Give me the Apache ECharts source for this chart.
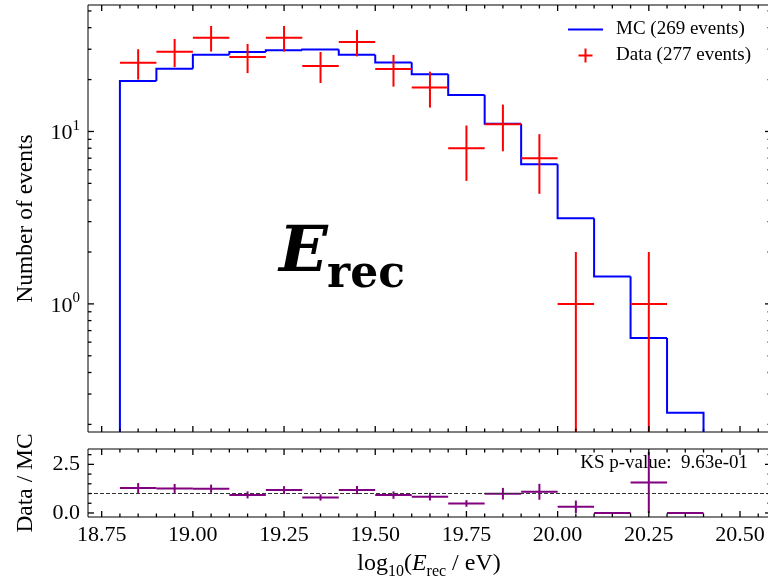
<!DOCTYPE html>
<html><head><meta charset="utf-8">
<script src="https://cdn.jsdelivr.net/npm/echarts@6/dist/echarts.min.js"></script>
<style>html,body{margin:0;padding:0;background:#fff}#c{width:768px;height:580px}</style>
</head><body><div id="c"></div>
<script>
// ---- data ----
const binEdges = [18.8, 18.9, 19.0, 19.1, 19.2, 19.3, 19.4, 19.5, 19.6, 19.7, 19.8, 19.9, 20.0, 20.1, 20.2, 20.3, 20.4];
const mcCounts = [19.6, 23.1, 27.9, 28.9, 29.6, 29.9, 27.9, 25.1, 21.5, 16.3, 11.1, 6.45, 3.14, 1.44, 0.635, 0.234];
const dataCenters = [18.85, 18.95, 19.05, 19.15, 19.25, 19.35, 19.45, 19.55, 19.65, 19.75, 19.85, 19.95, 20.05, 20.25];
const dataCounts = [25, 29, 35, 27, 35, 24, 33, 23, 18, 8, 11, 7, 1, 1];
const dataErr = [5.0, 5.39, 5.92, 5.20, 5.92, 4.90, 5.74, 4.80, 4.24, 2.83, 3.32, 2.65, 1.0, 1.0];
const ratioCenters = [18.85, 18.95, 19.05, 19.15, 19.25, 19.35, 19.45, 19.55, 19.65, 19.75, 19.85, 19.95, 20.05, 20.15, 20.25, 20.35];
const ratioValues = [1.28, 1.26, 1.25, 0.93, 1.18, 0.80, 1.18, 0.92, 0.84, 0.49, 0.99, 1.09, 0.32, 0.0, 1.57, 0.0];
const ratioErr = [0.26, 0.23, 0.21, 0.18, 0.20, 0.16, 0.21, 0.19, 0.20, 0.17, 0.30, 0.41, 0.32, 0.0, 1.57, 0.0];
const binWidth = 0.1;
const mcName = 'MC (269 events)';
const dataName = 'Data (277 events)';
const ksText = 'KS p-value:  9.63e-01';

// ---- ticks ----
const xMajorTicks = [18.75, 19.0, 19.25, 19.5, 19.75, 20.0, 20.25, 20.5];
const xMinorTicks = [18.8, 18.85, 18.9, 18.95, 19.05, 19.1, 19.15, 19.2, 19.3, 19.35, 19.4, 19.45, 19.55, 19.6, 19.65, 19.7, 19.8, 19.85, 19.9, 19.95, 20.05, 20.1, 20.15, 20.2, 20.3, 20.35, 20.4, 20.45, 20.55];
const yMainMajorTicks = [1, 10];
const yMainMinorTicks = [0.2, 0.3, 0.4, 0.5, 0.6, 0.7, 0.8, 0.9, 2, 3, 4, 5, 6, 7, 8, 9, 20, 30, 40, 50];
const yRatioMajorTicks = [0, 2.5];
const yRatioMinorTicks = [0.5, 1.0, 1.5, 2.0, 3.0];

const X_MIN = 18.7125, X_MAX = 20.585;
const Y_MIN = 0.1807, Y_MAX = 54.15;
const R_MIN = -0.207, R_MAX = 3.29;

const F = '"Liberation Serif", "Times New Roman", serif';
const BLUE = '#0000ff', RED = '#ff0000', PURPLE = '#800080';

const chart = echarts.init(document.getElementById('c'));

// tick marks, placed through the axes' own scales
function tickSeries(axisIdx, values, side, len, refValue) {
  const isX = side === 'bottom' || side === 'top';
  return {
    type: 'custom', xAxisIndex: axisIdx, yAxisIndex: axisIdx, clip: false, z: 10,
    data: values.map(v => isX ? [v, refValue] : [refValue, v]),
    encode: {x: 0, y: 1},
    renderItem: function (params, api) {
      const cs = params.coordSys;
      const i = params.dataIndex;
      const p = api.coord(isX ? [values[i], refValue] : [refValue, values[i]]);
      let shape;
      if (side === 'bottom') {
        const b = cs.y + cs.height;
        shape = {x1: p[0], y1: b, x2: p[0], y2: b - len};
      } else if (side === 'top') {
        shape = {x1: p[0], y1: cs.y, x2: p[0], y2: cs.y + len};
      } else if (side === 'left') {
        shape = {x1: cs.x, y1: p[1], x2: cs.x + len, y2: p[1]};
      } else {
        const r = cs.x + cs.width;
        shape = {x1: r, y1: p[1], x2: r - len, y2: p[1]};
      }
      return {type: 'line', shape: shape, style: {stroke: '#000', lineWidth: 1.3}};
    }
  };
}

const tickSeriesList = [];
[[0, yMainMajorTicks, yMainMinorTicks], [1, yRatioMajorTicks, yRatioMinorTicks]].forEach(([g, yMaj, yMin]) => {
  ['bottom', 'top'].forEach(s => {
    tickSeriesList.push(tickSeries(g, xMajorTicks, s, 6, 1));
    tickSeriesList.push(tickSeries(g, xMinorTicks, s, 3.5, 1));
  });
  ['left', 'right'].forEach(s => {
    tickSeriesList.push(tickSeries(g, yMaj, s, 6, 19.0));
    tickSeriesList.push(tickSeries(g, yMin, s, 3.5, 19.0));
  });
});

const option = {
  animation: false,
  backgroundColor: '#fff',
  grid: [
    {left: 88, top: 5, right: -3, height: 427, show: true, borderColor: '#000', borderWidth: 1, backgroundColor: 'transparent', outerBoundsMode: 'none'},
    {left: 88, top: 449, right: -3, height: 68, show: true, borderColor: '#000', borderWidth: 1, backgroundColor: 'transparent', outerBoundsMode: 'none'}
  ],
  xAxis: [
    {type: 'value', gridIndex: 0, min: X_MIN, max: X_MAX, axisLine: {show: false}, splitLine: {show: false},
      axisTick: {show: false}, axisLabel: {show: false}},
    {type: 'value', gridIndex: 1, min: X_MIN, max: X_MAX, axisLine: {show: false}, splitLine: {show: false},
      axisTick: {show: false},
      axisLabel: {show: true, customValues: xMajorTicks, formatter: v => v.toFixed(2),
        fontSize: 22, fontFamily: F, color: '#000', margin: 7}}
  ],
  yAxis: [
    {type: 'log', logBase: 10, gridIndex: 0, min: Y_MIN, max: Y_MAX, axisLine: {show: false}, splitLine: {show: false},
      axisTick: {show: false},
      axisLabel: {show: true, customValues: yMainMajorTicks, margin: 8,
        formatter: v => '{b|10}{s|' + Math.round(Math.log10(v)) + '}',
        rich: {
          b: {fontSize: 22, fontFamily: F, color: '#000', lineHeight: 26, verticalAlign: 'bottom'},
          s: {fontSize: 15, fontFamily: F, color: '#000', lineHeight: 15, verticalAlign: 'top'}
        }},
      name: 'Number of events', nameLocation: 'middle', nameGap: 50,
      nameTextStyle: {fontSize: 23.5, fontFamily: F, color: '#000'}},
    {type: 'value', gridIndex: 1, min: R_MIN, max: R_MAX, axisLine: {show: false}, splitLine: {show: false},
      axisTick: {show: false},
      axisLabel: {show: true, customValues: yRatioMajorTicks, margin: 8, formatter: v => v.toFixed(1),
        fontSize: 22, fontFamily: F, color: '#000'},
      name: 'Data / MC', nameLocation: 'middle', nameGap: 50,
      nameTextStyle: {fontSize: 23.5, fontFamily: F, color: '#000'}}
  ],
  legend: {
    orient: 'vertical', left: 568, top: 20, padding: 0, itemWidth: 35, itemHeight: 14, itemGap: 7,
    textStyle: {fontSize: 19, fontFamily: F, color: '#000', lineHeight: 18, padding: [0, 0, 0, 8]},
    data: [
      {name: mcName, icon: 'path://M0,0h0.01v0.01h-0.01z M0,6h35v2h-35z M34.99,13.99h0.01v0.01h-0.01z', itemStyle: {color: BLUE}},
      {name: dataName, icon: 'path://M0,0h0.01v0.01h-0.01z M10.5,6h14v2h-14z M16.5,0h2v14h-2z M34.99,13.99h0.01v0.01h-0.01z', itemStyle: {color: RED}}
    ]
  },
  graphic: [
    {type: 'text', x: 279, y: 254, style: {text: 'E', font: 'italic bold 64px "DejaVu Serif"', fill: '#000', textAlign: 'left', textVerticalAlign: 'middle'}},
    {type: 'text', x: 327, y: 276, style: {text: 'rec', font: 'bold 44px "DejaVu Serif"', fill: '#000', textAlign: 'left', textVerticalAlign: 'middle'}},
    {type: 'text', x: 748, y: 463, style: {text: ksText, font: '19px ' + F, fill: '#000', textAlign: 'right', textVerticalAlign: 'middle'}},
    {type: 'text', x: 429, y: 564, style: {
      text: '{n|log}{s|10}{n|(}{i|E}{s|rec}{n| / eV)}',
      textAlign: 'center', textVerticalAlign: 'middle',
      rich: {
        n: {fontSize: 24, fontFamily: F, fill: '#000', lineHeight: 32},
        i: {fontSize: 24, fontFamily: F, fontStyle: 'italic', fill: '#000', lineHeight: 32},
        s: {fontSize: 16, fontFamily: F, fill: '#000', lineHeight: 16, verticalAlign: 'bottom'}
      }}}
  ],
  series: tickSeriesList.concat([
    {
      name: mcName, type: 'custom', xAxisIndex: 0, yAxisIndex: 0, clip: true,
      itemStyle: {color: BLUE},
      data: mcCounts.map((v, i) => [binEdges[i], v]),
      encode: {x: 0, y: 1},
      renderItem: function (params, api) {
        const i = params.dataIndex;
        const cs = params.coordSys;
        const bottom = cs.y + cs.height;
        const v = mcCounts[i];
        const pl = api.coord([binEdges[i], v]);
        const pr = api.coord([binEdges[i + 1], v]);
        const startY = i === 0 ? bottom : api.coord([binEdges[i], mcCounts[i - 1]])[1];
        const pts = [[pl[0], startY], pl, pr];
        if (i === mcCounts.length - 1) pts.push([pr[0], bottom]);
        return {type: 'polyline', shape: {points: pts},
          style: {stroke: BLUE, lineWidth: 2, fill: null, lineJoin: 'miter'}};
      }
    },
    {
      name: dataName, type: 'custom', xAxisIndex: 0, yAxisIndex: 0, clip: true,
      itemStyle: {color: RED},
      data: dataCenters.map((x, i) => [x, dataCounts[i]]),
      encode: {x: 0, y: 1},
      renderItem: function (params, api) {
        const i = params.dataIndex;
        const cs = params.coordSys;
        const x = dataCenters[i], y = dataCounts[i], e = dataErr[i];
        const pl = api.coord([x - binWidth / 2, y]);
        const pr = api.coord([x + binWidth / 2, y]);
        const pt = api.coord([x, y + e]);
        const lo = y - e;
        const pbY = lo > 0 ? api.coord([x, lo])[1] : cs.y + cs.height;
        return {type: 'group', children: [
          {type: 'line', shape: {x1: pl[0], y1: pl[1], x2: pr[0], y2: pr[1]}, style: {stroke: RED, lineWidth: 2}},
          {type: 'line', shape: {x1: pt[0], y1: pt[1], x2: pt[0], y2: pbY}, style: {stroke: RED, lineWidth: 2}}
        ]};
      }
    },
    {
      type: 'line', xAxisIndex: 1, yAxisIndex: 1, symbol: 'none', silent: true,
      data: [[X_MIN, 1], [X_MAX, 1]],
      lineStyle: {color: '#333', width: 1.1, type: [4, 2]}
    },
    {
      type: 'custom', xAxisIndex: 1, yAxisIndex: 1, clip: true,
      itemStyle: {color: PURPLE},
      data: ratioCenters.map((x, i) => [x, ratioValues[i]]),
      encode: {x: 0, y: 1},
      renderItem: function (params, api) {
        const i = params.dataIndex;
        const x = ratioCenters[i], y = ratioValues[i], e = ratioErr[i];
        const pl = api.coord([x - binWidth / 2, y]);
        const pr = api.coord([x + binWidth / 2, y]);
        const children = [
          {type: 'line', shape: {x1: pl[0], y1: pl[1], x2: pr[0], y2: pr[1]}, style: {stroke: PURPLE, lineWidth: 2}}
        ];
        if (e > 0) {
          const pt = api.coord([x, y + e]);
          const pb = api.coord([x, y - e]);
          children.push({type: 'line', shape: {x1: pt[0], y1: pt[1], x2: pb[0], y2: pb[1]}, style: {stroke: PURPLE, lineWidth: 2}});
        }
        return {type: 'group', children: children};
      }
    }
  ])
};
chart.setOption(option);
</script>
</body></html>
